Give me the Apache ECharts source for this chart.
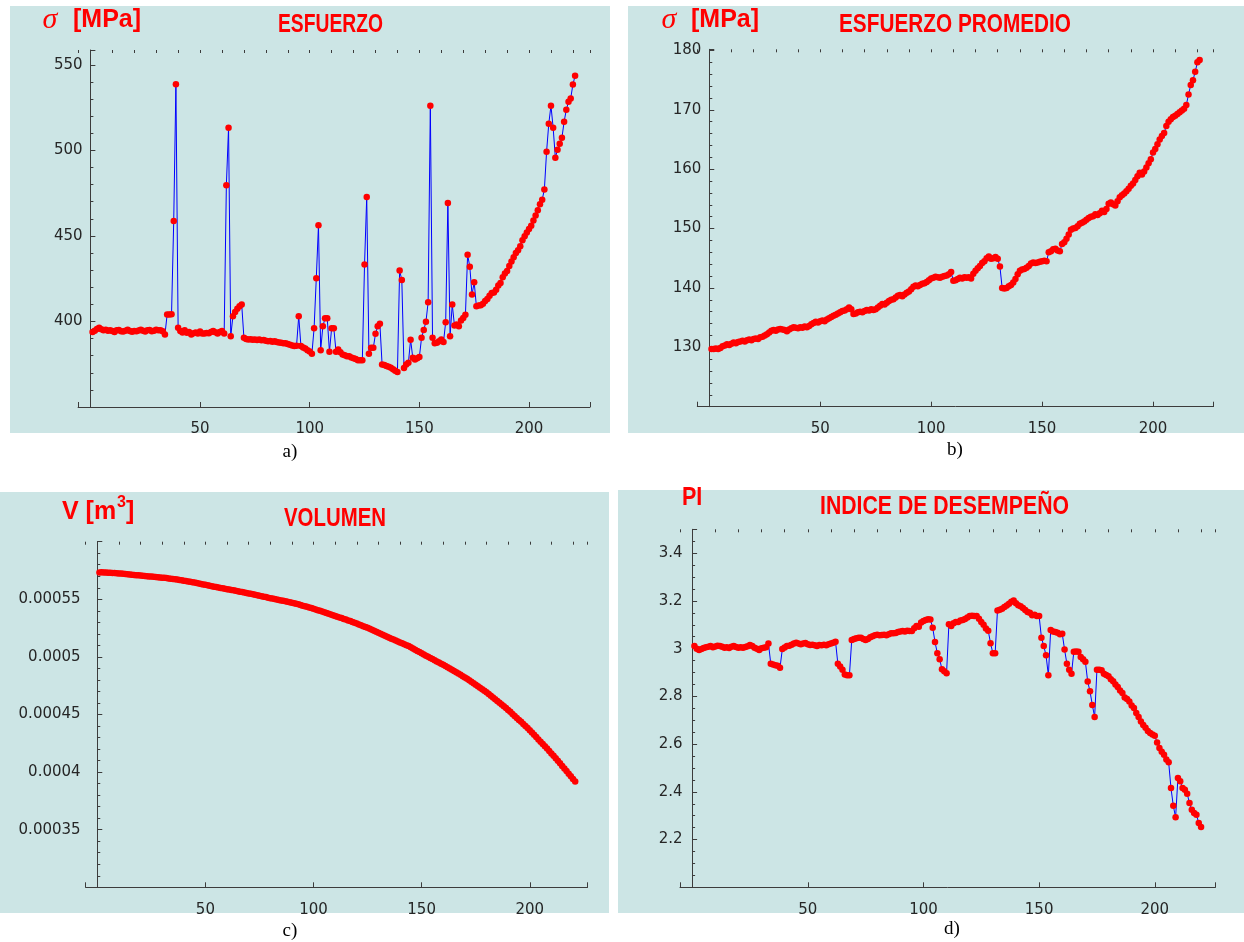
<!DOCTYPE html>
<html><head><meta charset="utf-8">
<script src="https://cdn.jsdelivr.net/npm/echarts@6/dist/echarts.min.js"></script>
<style>html,body{margin:0;padding:0;background:#fff}#c{width:1244px;height:942px}</style>
</head><body><div id="c"></div>
<script>
// ---- data (x = step 1..N) ----
const stressA = [393.8, 394.6, 395.6, 396.4, 395.4, 394.9, 395.1, 394.6, 394.9, 394.4,
 393.9, 394.8, 395.0, 394.3, 394.1, 394.6, 395.2, 394.4, 394.0, 394.5,
 394.3, 394.7, 395.1, 394.6, 394.2, 394.9, 395.0, 394.3, 394.6, 395.1,
 394.8, 394.9, 394.3, 392.4, 404.1, 404.1, 404.2, 458.8, 538.7, 396.3,
 394.4, 393.6, 394.9, 393.4, 393.8, 392.4, 393.1, 393.5, 393.0, 394.1,
 393.0, 392.9, 393.2, 393.1, 393.8, 394.4, 393.7, 393.0, 393.9, 394.4,
 393.0, 479.6, 513.3, 391.4, 403.1, 405.6, 407.5, 408.9, 409.9, 390.5,
 389.8, 389.5, 389.6, 389.3, 389.5, 389.2, 389.4, 389.0, 389.1, 388.8,
 388.5, 388.6, 388.2, 388.4, 388.0, 387.7, 387.5, 387.2, 387.3, 386.8,
 386.4, 386.0, 385.6, 385.8, 403.1, 385.6, 384.8, 384.2, 383.2, 382.4,
 381.1, 396.0, 425.2, 456.3, 383.2, 397.2, 401.9, 401.9, 382.3, 396.0,
 396.0, 382.3, 383.6, 382.0, 380.7, 380.2, 379.7, 379.7, 379.0, 378.5,
 378.0, 377.4, 377.4, 377.4, 433.3, 472.8, 381.1, 384.6, 384.6, 392.8,
 397.2, 398.6, 374.9, 374.5, 373.9, 373.5, 373.0, 372.0, 371.2, 370.4,
 429.8, 424.2, 372.8, 374.9, 375.9, 389.3, 378.8, 377.8, 378.5, 379.2,
 390.5, 395.0, 399.8, 411.3, 526.1, 390.5, 387.2, 387.6, 388.5, 389.5,
 388.0, 399.6, 469.3, 391.4, 409.9, 397.6, 398.2, 397.2, 400.5, 402.1,
 404.0, 439.0, 432.0, 415.7, 422.9, 408.9, 409.3, 409.5, 410.4, 412.0,
 413.2, 415.0, 416.7, 417.0, 418.5, 421.0, 422.5, 425.8, 428.0, 429.5,
 432.4, 435.0, 437.5, 440.0, 441.6, 444.0, 447.5, 449.8, 452.0, 454.0,
 456.0, 459.0, 462.0, 465.0, 468.5, 471.2, 477.2, 499.2, 515.6, 526.1,
 513.3, 495.7, 500.4, 503.9, 507.4, 516.8, 523.8, 528.4, 530.4, 538.5, 543.6];

const stressAvgB = [129.7, 129.7, 129.8, 129.7, 129.9, 130.2, 130.3, 130.5, 130.4, 130.6,
 130.8, 130.7, 130.9, 131.0, 131.1, 131.0, 131.2, 131.3, 131.2, 131.4,
 131.5, 131.4, 131.7, 131.8, 132.0, 132.2, 132.5, 132.8, 132.9, 132.8,
 133.0, 133.1, 133.0, 132.9, 132.7, 133.0, 133.2, 133.4, 133.3, 133.2,
 133.4, 133.3, 133.5, 133.4, 133.6, 133.9, 134.1, 134.3, 134.2, 134.4,
 134.5, 134.4, 134.7, 134.9, 135.1, 135.3, 135.5, 135.7, 135.9, 136.1,
 136.2, 136.4, 136.7, 136.4, 135.6, 135.7, 135.9, 136.0, 135.9, 136.1,
 136.3, 136.2, 136.4, 136.3, 136.4, 136.7, 137.0, 137.3, 137.2, 137.5,
 137.8, 138.0, 138.1, 138.4, 138.7, 138.8, 138.6, 138.9, 139.2, 139.4,
 139.8, 140.2, 140.4, 140.3, 140.5, 140.7, 140.8, 141.0, 141.3, 141.6,
 141.7, 141.9, 141.8, 141.7, 141.9, 142.0, 142.1, 142.3, 142.7, 141.2,
 141.3, 141.5, 141.7, 141.6, 141.8, 141.7, 141.8, 141.6, 142.4, 142.9,
 143.3, 143.7, 144.2, 144.5, 145.0, 145.3, 144.9, 145.0, 145.2, 144.9,
 143.6, 140.0, 139.9, 140.0, 140.3, 140.5, 140.9, 141.5, 142.3, 142.9,
 143.1, 143.2, 143.4, 143.7, 144.1, 144.3, 144.2, 144.3, 144.4, 144.5,
 144.6, 144.5, 146.0, 146.2, 146.5, 146.6, 146.3, 146.2, 147.4, 147.7,
 148.3, 149.0, 149.8, 150.0, 150.1, 150.4, 150.8, 151.0, 151.2, 151.5,
 151.8, 152.0, 152.1, 152.4, 152.3, 152.6, 153.0, 152.8, 153.3, 154.2,
 154.4, 154.1, 153.9, 154.6, 155.3, 155.6, 155.9, 156.3, 156.7, 157.2,
 157.6, 158.2, 158.8, 159.4, 159.1, 159.6, 160.3, 161.0, 161.7, 162.8,
 163.4, 164.2, 165.0, 165.6, 166.1, 167.3, 168.0, 168.4, 168.8, 169.0,
 169.3, 169.6, 169.9, 170.2, 170.8, 172.6, 174.2, 175.0, 176.4, 178.0, 178.4];

const volumeC = [0.0005733, 0.0005734, 0.0005733, 0.0005732, 0.0005731, 0.0005731, 0.0005729, 0.0005728, 0.0005726, 0.0005725,
 0.0005723, 0.0005722, 0.0005719, 0.0005718, 0.0005716, 0.0005714, 0.0005712, 0.0005709, 0.0005708, 0.0005706,
 0.0005704, 0.0005703, 0.0005701, 0.0005699, 0.0005697, 0.0005696, 0.0005694, 0.0005692, 0.0005690, 0.0005688,
 0.0005686, 0.0005684, 0.0005681, 0.0005679, 0.0005676, 0.0005674, 0.0005671, 0.0005668, 0.0005665, 0.0005661,
 0.0005658, 0.0005655, 0.0005652, 0.0005648, 0.0005645, 0.0005641, 0.0005637, 0.0005633, 0.0005629, 0.0005626,
 0.0005622, 0.0005618, 0.0005614, 0.0005610, 0.0005606, 0.0005603, 0.0005599, 0.0005596, 0.0005592, 0.0005588,
 0.0005585, 0.0005581, 0.0005578, 0.0005574, 0.0005570, 0.0005566, 0.0005563, 0.0005559, 0.0005555, 0.0005551,
 0.0005548, 0.0005544, 0.0005540, 0.0005535, 0.0005531, 0.0005527, 0.0005523, 0.0005519, 0.0005514, 0.0005510,
 0.0005506, 0.0005502, 0.0005498, 0.0005494, 0.0005490, 0.0005487, 0.0005483, 0.0005479, 0.0005475, 0.0005471,
 0.0005466, 0.0005461, 0.0005456, 0.0005450, 0.0005445, 0.0005440, 0.0005435, 0.0005429, 0.0005424, 0.0005418,
 0.0005412, 0.0005406, 0.0005400, 0.0005394, 0.0005388, 0.0005382, 0.0005375, 0.0005369, 0.0005362, 0.0005356,
 0.0005349, 0.0005343, 0.0005337, 0.0005330, 0.0005324, 0.0005317, 0.0005311, 0.0005304, 0.0005296, 0.0005289,
 0.0005282, 0.0005274, 0.0005267, 0.0005260, 0.0005252, 0.0005245, 0.0005236, 0.0005227, 0.0005218, 0.0005210,
 0.0005201, 0.0005192, 0.0005184, 0.0005175, 0.0005166, 0.0005158, 0.0005150, 0.0005142, 0.0005134, 0.0005126,
 0.0005118, 0.0005110, 0.0005102, 0.0005094, 0.0005083, 0.0005073, 0.0005062, 0.0005052, 0.0005042, 0.0005032,
 0.0005021, 0.0005011, 0.0005001, 0.0004991, 0.0004981, 0.0004971, 0.0004961, 0.0004951, 0.0004941, 0.0004931,
 0.0004921, 0.0004911, 0.0004900, 0.0004889, 0.0004877, 0.0004866, 0.0004855, 0.0004844, 0.0004833, 0.0004821,
 0.0004810, 0.0004797, 0.0004784, 0.0004771, 0.0004758, 0.0004745, 0.0004732, 0.0004719, 0.0004706, 0.0004693,
 0.0004678, 0.0004663, 0.0004648, 0.0004633, 0.0004617, 0.0004602, 0.0004587, 0.0004572, 0.0004557, 0.0004540,
 0.0004523, 0.0004505, 0.0004488, 0.0004470, 0.0004453, 0.0004436, 0.0004418, 0.0004401, 0.0004383, 0.0004364,
 0.0004344, 0.0004324, 0.0004304, 0.0004284, 0.0004264, 0.0004245, 0.0004225, 0.0004204, 0.0004183, 0.0004162,
 0.0004141, 0.0004120, 0.0004098, 0.0004076, 0.0004054, 0.0004032, 0.0004010, 0.0003986, 0.0003963, 0.0003940, 0.0003918];

const piD = [3.011, 3.000, 2.994, 2.998, 3.003, 3.006, 3.008, 3.011, 3.006, 3.009,
 3.012, 3.011, 3.008, 3.004, 3.006, 3.003, 3.008, 3.011, 3.007, 3.004,
 3.006, 3.004, 3.007, 3.010, 3.015, 3.011, 3.004, 3.000, 2.994, 3.002,
 3.004, 3.006, 3.022, 2.937, 2.933, 2.930, 2.928, 2.920, 2.998, 3.005,
 3.011, 3.012, 3.016, 3.022, 3.025, 3.022, 3.018, 3.022, 3.024, 3.018,
 3.015, 3.016, 3.014, 3.011, 3.015, 3.014, 3.016, 3.014, 3.018, 3.022,
 3.025, 3.029, 2.937, 2.925, 2.912, 2.892, 2.888, 2.888, 3.036, 3.040,
 3.044, 3.046, 3.046, 3.040, 3.036, 3.040, 3.048, 3.052, 3.056, 3.058,
 3.056, 3.057, 3.058, 3.056, 3.060, 3.064, 3.064, 3.066, 3.070, 3.072,
 3.074, 3.072, 3.075, 3.074, 3.074, 3.085, 3.095, 3.092, 3.110, 3.116,
 3.120, 3.123, 3.122, 3.088, 3.028, 2.981, 2.956, 2.914, 2.905, 2.897,
 3.102, 3.095, 3.106, 3.112, 3.112, 3.118, 3.120, 3.124, 3.130, 3.137,
 3.138, 3.137, 3.137, 3.125, 3.112, 3.100, 3.084, 3.075, 3.023, 2.981,
 2.981, 3.160, 3.163, 3.167, 3.174, 3.181, 3.188, 3.196, 3.202, 3.190,
 3.182, 3.178, 3.170, 3.162, 3.154, 3.150, 3.140, 3.142, 3.137, 3.137,
 3.046, 3.011, 2.972, 2.888, 3.078, 3.072, 3.070, 3.067, 3.060, 3.062,
 2.996, 2.937, 2.912, 2.895, 2.987, 2.988, 2.987, 2.965, 2.955, 2.945,
 2.862, 2.821, 2.764, 2.714, 2.912, 2.912, 2.909, 2.895, 2.890, 2.884,
 2.872, 2.863, 2.850, 2.839, 2.825, 2.814, 2.795, 2.789, 2.779, 2.762,
 2.751, 2.730, 2.714, 2.695, 2.680, 2.668, 2.655, 2.647, 2.640, 2.635,
 2.607, 2.584, 2.568, 2.555, 2.535, 2.524, 2.416, 2.342, 2.293, 2.458,
 2.444, 2.416, 2.409, 2.392, 2.353, 2.325, 2.311, 2.304, 2.269, 2.253];

const panelTitles = ['ESFUERZO', 'ESFUERZO PROMEDIO', 'VOLUMEN', 'INDICE DE DESEMPEÑO'];
const panelTags = ['a)', 'b)', 'c)', 'd)'];
const xMajorStep = 50, xMinorStep = 10;

// ---- layout / style ----
const W = 1244, H = 942;
const panels = [
  { data: stressA, bg: [10, 6, 600, 427], box: [78.1, 50, 590, 407], x: [-5.6, 227.8], y: [350, 558.7], yMajor: 50, yMinor: 10, yMargin: -4.5,
    title: [330.5, 24.5, 105], tag: [290, 452] },
  { data: stressAvgB, bg: [628, 6, 616, 427], box: [697.3, 49.3, 1213.6, 406.7], x: [-5.4, 227.3], y: [120, 180.2], yMajor: 10, yMinor: 2, yMargin: -4,
    title: [955, 24.5, 232], tag: [955, 450] },
  { data: volumeC, bg: [0, 492, 609, 421], box: [85.6, 541.7, 587.5, 887.3], x: [-5.4, 226.7], y: [0.0003, 0.0006], yMajor: 0.00005, yMinor: 0.00001, yMargin: 5,
    title: [335, 518.5, 102], tag: [290, 931] },
  { data: piD, bg: [618, 490, 626, 423], box: [680, 529.3, 1215.4, 887.3], x: [-5.23, 226.2], y: [2.0, 3.5], yMajor: 0.2, yMinor: 0.05, yMargin: -2.5,
    title: [944.5, 506.5, 249], tag: [952, 929] }
];

const BG = '#cce5e5', AXIS = '#3c3c3c', LBL = '#262626';
const labelFont = '"DejaVu Sans", Verdana, sans-serif';
const titleFont = 'bold 26px "Liberation Sans", Arial, sans-serif';
const isMult = (v, s) => Math.abs(v / s - Math.round(v / s)) < 1e-6;

const mctx = document.createElement('canvas').getContext('2d');
function fit(text, font, target) { mctx.font = font; return target / mctx.measureText(text).width; }

const grid = [], xAxis = [], yAxis = [], series = [], graphic = [];
panels.forEach((p, g) => {
  const [l, t, r, b] = p.box;
  grid.push({ left: l, top: t, width: r - l, height: b - t });
  const xmaj = {
    type: 'value', gridIndex: g, min: p.x[0], max: p.x[1], minInterval: xMajorStep, maxInterval: xMajorStep,
    axisLine: { onZero: false, lineStyle: { color: AXIS, width: 1 } },
    axisTick: { inside: true, length: 5, lineStyle: { color: AXIS } },
    axisLabel: { color: LBL, fontFamily: labelFont, fontSize: 15, margin: 15,
      formatter: v => (v > 0 && v < p.x[1] && isMult(v, xMajorStep)) ? String(v) : '' },
    splitLine: { show: false }
  };
  const xmin = {
    type: 'value', gridIndex: g, min: p.x[0], max: p.x[1], minInterval: xMinorStep, maxInterval: xMinorStep,
    axisLine: { show: false, onZero: false },
    axisTick: { inside: true, length: 3, lineStyle: { color: AXIS } },
    axisLabel: { show: false }, splitLine: { show: false }
  };
  xAxis.push(xmaj, xmin);
  const ymaj = {
    type: 'value', gridIndex: g, position: 'left', min: p.y[0], max: p.y[1], minInterval: p.yMajor, maxInterval: p.yMajor,
    axisLine: { onZero: true, lineStyle: { color: AXIS, width: 1 } },
    axisTick: { inside: true, length: 5, lineStyle: { color: AXIS } },
    axisLabel: { color: LBL, fontFamily: labelFont, fontSize: 15, margin: p.yMargin,
      formatter: v => (v > p.y[0] + p.yMajor * 1e-3 && v < p.y[1] - p.yMajor * 1e-3 && isMult(v, p.yMajor)) ? String(+v.toPrecision(6)) : '' },
    splitLine: { show: false }
  };
  const ymin = {
    type: 'value', gridIndex: g, position: 'left', min: p.y[0], max: p.y[1], minInterval: p.yMinor, maxInterval: p.yMinor,
    axisLine: { show: false, onZero: true },
    axisTick: { inside: true, length: 3, lineStyle: { color: AXIS } },
    axisLabel: { show: false }, splitLine: { show: false }
  };
  yAxis.push(ymaj, ymin);
  series.push({
    type: 'line', xAxisIndex: 2 * g, yAxisIndex: 2 * g,
    data: p.data.map((v, i) => [i + 1, v]),
    symbol: 'circle', symbolSize: 6.5, showSymbol: true,
    itemStyle: { color: '#ff0000' },
    lineStyle: { color: '#0000ff', width: 1 },
    emphasis: { disabled: true }, animation: false
  });
  graphic.push({ type: 'rect', z: -10, shape: { x: p.bg[0], y: p.bg[1], width: p.bg[2], height: p.bg[3] }, style: { fill: BG } });
  const tt = panelTitles[g];
  graphic.push({ type: 'text', z: 10, x: p.title[0], y: p.title[1], scaleX: fit(tt, titleFont, p.title[2]),
    style: { text: tt, font: titleFont, fill: '#ff0000', align: 'center', verticalAlign: 'middle', textAlign: 'center', textVerticalAlign: 'middle' } });
  graphic.push({ type: 'text', z: 10, x: p.tag[0], y: p.tag[1],
    style: { text: panelTags[g], font: '19px "Liberation Serif", "Times New Roman", serif', fill: '#000', align: 'center', verticalAlign: 'middle', textAlign: 'center', textVerticalAlign: 'middle' } });
});

// axis-name labels
const unitFont = 'bold 25px "Liberation Sans", Arial, sans-serif';
const sigFont = 'italic 30px "Liberation Serif", "Times New Roman", serif';
function txt(text, x, y, font, align) {
  return { type: 'text', z: 10, x, y, style: { text, font, fill: '#ff0000', align: align || 'left', verticalAlign: 'middle', textAlign: align || 'left', textVerticalAlign: 'middle' } };
}
graphic.push(txt('σ', 50, 20, sigFont, 'center'), txt('[MPa]', 73, 20, unitFont));
graphic.push(txt('σ', 669, 20, sigFont, 'center'), txt('[MPa]', 691, 20, unitFont));
graphic.push(txt('V [m', 62, 512, unitFont), txt('3', 117, 503, 'bold 16px "Liberation Sans", Arial, sans-serif'), txt(']', 126, 512, unitFont));
const pi = txt('PI', 682, 498, unitFont); pi.scaleX = 0.86; graphic.push(pi);

const chart = echarts.init(document.getElementById('c'), null, { renderer: 'canvas', width: W, height: H });
chart.setOption({ backgroundColor: '#ffffff', animation: false, grid, xAxis, yAxis, series, graphic });
</script></body></html>
